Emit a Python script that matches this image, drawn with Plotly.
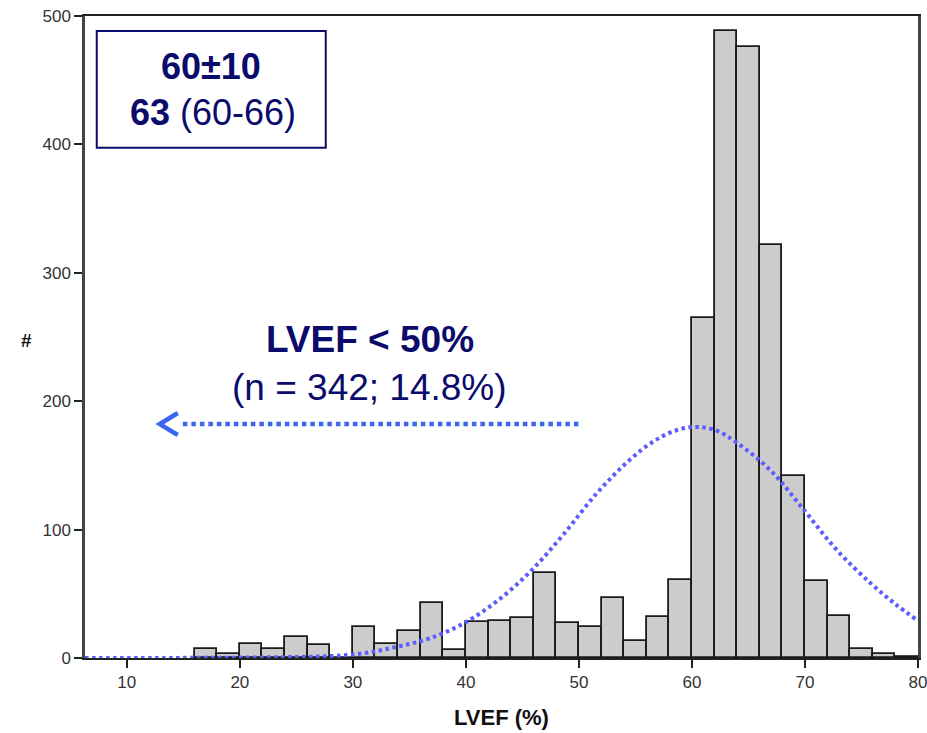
import plotly.graph_objects as go

# Histogram data (bin width 2, left edges)
bin_left = [16, 18, 20, 22, 24, 26, 28, 30, 32, 34, 36, 38, 40, 42, 44, 46, 48,
            50, 52, 54, 56, 58, 60, 62, 64, 66, 68, 70, 72, 74, 76, 78]
counts = [7, 3, 11, 7, 16, 10, 0, 24, 11, 21, 43, 6, 28, 29, 31, 66, 27,
          24, 47, 13, 32, 61, 265, 488, 476, 322, 142, 60, 33, 7, 3, 1]
bin_width = 2

# Normal curve overlay
curve_x = [6.3, 15, 20, 25, 28, 30.9, 33.9, 36.8, 39.8, 42.7, 45.7, 48.6, 51.6,
           54.5, 56.6, 58.5, 60.4, 62.2, 64.0, 66.9, 69.9, 72.8, 75.8, 78.0, 80.0]
curve_y = [0, 0.1, 0.3, 0.8, 1.5, 3.6, 8.8, 15.3, 27, 43.9, 67.3, 95.9, 128.5,
           154.4, 168.7, 177, 180, 177, 167.5, 146.6, 115.4, 84.2, 58.3, 42, 29]

x_ticks = [10, 20, 30, 40, 50, 60, 70, 80]
y_ticks = [0, 100, 200, 300, 400, 500]

NAVY = "#0b0b6b"
ARROW = "#3b66f2"
CURVE = "#5c5cff"
FONT = "Liberation Sans, Arial, sans-serif"

centers = [b + bin_width / 2 for b in bin_left]

fig = go.Figure()
fig.add_trace(go.Bar(
    x=centers, y=counts, width=bin_width,
    marker=dict(color="#cccccc", line=dict(color="#1a1a1a", width=1.8)),
    showlegend=False, hoverinfo="x+y",
))
fig.add_trace(go.Scatter(
    x=curve_x, y=curve_y, mode="lines",
    line=dict(color=CURVE, width=4, dash="3.5px,3.5px", shape="spline"),
    showlegend=False,
))

# Stats box
fig.add_shape(type="rect", xref="x", yref="y", x0=7.34, x1=27.6, y0=397.4, y1=488.3,
              line=dict(color=NAVY, width=2), fillcolor="white", layer="above")
fig.add_annotation(x=17.44, y=460.3, xref="x", yref="y", text="<b>60±10</b>",
                   showarrow=False, font=dict(size=36, color=NAVY, family=FONT),
                   yanchor="middle")
fig.add_annotation(x=17.6, y=425.2, xref="x", yref="y", text="<b>63</b> (60-66)",
                   showarrow=False, font=dict(size=36, color=NAVY, family=FONT),
                   yanchor="middle")

# LVEF < 50% label
fig.add_annotation(x=31.51, y=247.7, xref="x", yref="y", text="<b>LVEF &lt; 50%</b>",
                   showarrow=False, font=dict(size=37, color=NAVY, family=FONT),
                   yanchor="middle")
fig.add_annotation(x=31.51, y=210.3, xref="x", yref="y", text="(n = 342; 14.8%)",
                   showarrow=False, font=dict(size=37, color=NAVY, family=FONT),
                   yanchor="middle")

# Dotted arrow
fig.add_shape(type="line", xref="x", yref="y", x0=14.96, x1=50.3, y0=182.2, y1=182.2,
              line=dict(color=ARROW, width=4.5, dash="4.5px,4px"))
fig.add_shape(type="path", xref="x", yref="y",
              path="M 14.51,190.8 L 12.92,182.2 L 14.51,173.7",
              line=dict(color=ARROW, width=4.5))

# Axis titles as annotations (keep margins fixed)
fig.add_annotation(x=0.5, y=-0.092, xref="paper", yref="paper", text="<b>LVEF (%)</b>",
                   showarrow=False, font=dict(size=22, color="#111111", family=FONT),
                   xanchor="center", yanchor="middle")
fig.add_annotation(x=-0.07, y=0.494, xref="paper", yref="paper", text="<b>#</b>",
                   showarrow=False, font=dict(size=19, color="#111111", family=FONT),
                   xanchor="center", yanchor="middle")

fig.update_layout(
    width=927, height=733,
    margin=dict(l=85, r=9, t=16, b=75, autoexpand=False),
    paper_bgcolor="white", plot_bgcolor="white",
    bargap=0,
    font=dict(family=FONT, color="#222222", size=16),
    xaxis=dict(
        range=[6.3, 80], tickvals=x_ticks, ticks="outside", ticklen=8, tickwidth=1.5,
        tickcolor="#222222", showgrid=False, zeroline=False, automargin=False,
        showline=True, linecolor="#222222", linewidth=2, mirror=True,
        ticklabeloverflow="allow",
        tickfont=dict(size=17, color="#333333"),
    ),
    yaxis=dict(
        range=[0, 500], tickvals=y_ticks, ticks="outside", ticklen=8, tickwidth=1.5,
        tickcolor="#222222", showgrid=False, zeroline=False, automargin=False,
        showline=True, linecolor="#444444", linewidth=2.5, mirror=True,
        ticklabeloverflow="allow",
        tickfont=dict(size=17, color="#333333"),
    ),
)

fig.write_html("out.html")
